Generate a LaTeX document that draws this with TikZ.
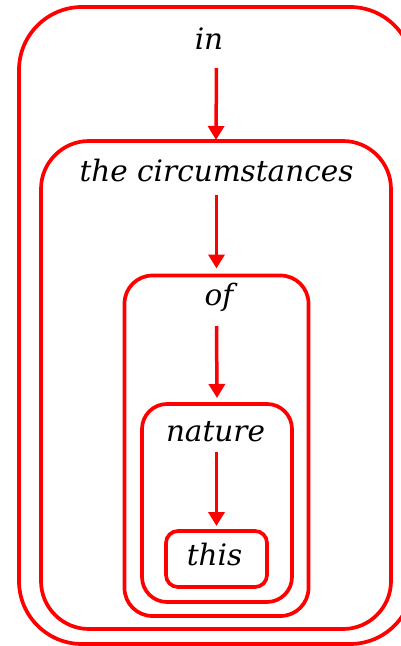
\documentclass[tikz,border=0pt]{standalone}
\usepackage{fontspec}
\setmainfont{DejaVu Serif}
\usetikzlibrary{arrows.meta}
\tikzset{
  box/.style={draw=red, line width=3.7pt, rectangle, inner sep=0pt, outer sep=0pt},
  lbl/.style={anchor=base, inner sep=0pt, font=\fontsize{29.5}{34}\selectfont\itshape},
  arr/.style={draw=red, line width=3.5pt, -{Triangle[width=16pt,length=14pt]}}
}
\begin{document}
\begin{tikzpicture}[x=1pt,y=-1pt]
\useasboundingbox (0,0) rectangle (401,646);
\node[box, rounded corners=63pt, minimum width=394pt, minimum height=637pt] (b1) at (216,325.5) {};
\node[box, rounded corners=48pt, minimum width=350pt, minimum height=488pt] (b2) at (216,385) {};
\node[box, rounded corners=28pt, minimum width=184pt, minimum height=340.5pt] (b3) at (216.5,445.75) {};
\node[box, rounded corners=25pt, minimum width=150pt, minimum height=198pt] (b4) at (217,503) {};
\node[box, rounded corners=12pt, minimum width=101pt, minimum height=56pt] (b5) at (216.5,559) {};
\node[lbl] (t1) at (209,49) {in};
\node[lbl] (t2) at (216.5,181) {the circumstances};
\node[lbl] (t3) at (219,305) {of};
\node[lbl] (t4) at (215.5,441) {nature};
\node[lbl] (t5) at (214.5,565) {this};
\draw[arr] (216.5,68) coordinate (a1) -- ([yshift=1pt]b2.north);
\draw[arr] (216.5,195) coordinate (a2) -- ([yshift=7pt]b3.north);
\draw[arr] (216.5,326) coordinate (a3) -- ([yshift=6pt]b4.north);
\draw[arr] (216.5,452) coordinate (a4) -- ([yshift=5pt]b5.north);
\end{tikzpicture}
\end{document}
